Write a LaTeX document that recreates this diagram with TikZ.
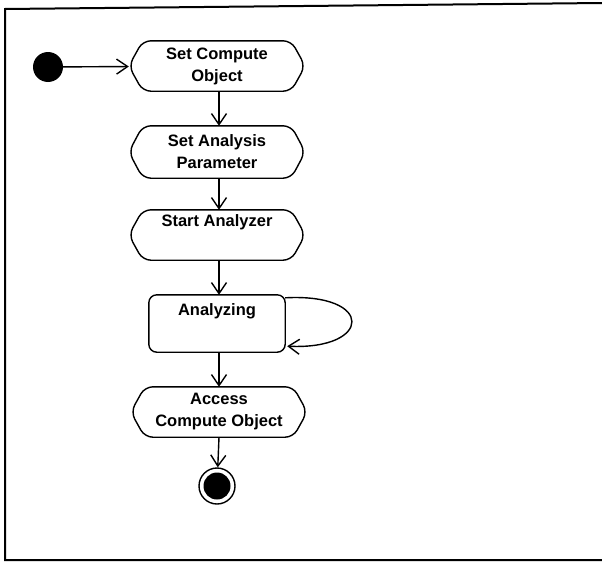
\documentclass[tikz,border=0pt]{standalone}
\usepackage{fontspec}
\setmainfont{Liberation Sans}
\usetikzlibrary{arrows.meta,calc}

\tikzset{
  every picture/.style={x=1pt,y=-1pt},
  lbl/.style={font=\bfseries\fontsize{16.5}{22}\selectfont, align=center, inner sep=0pt},
  act/.style={lbl, minimum width=176pt, minimum height=50pt},
  outline/.style={line width=1.4pt, rounded corners=8pt},
  flow/.style={line width=1.4pt, -{Straight Barb[length=11pt,width=15pt,line width=1.4pt]}},
  frame/.style={line width=2pt},
}

\begin{document}
\begin{tikzpicture}
  \useasboundingbox (0,0) rectangle (602,562);

  % surrounding frame (open on the right)
  \draw[frame] (602,3) -- (5,9) -- (5,560) -- (602,560);

  % initial and final states
  \node[circle, fill=black, minimum size=30pt, inner sep=0pt] (start) at (48,67) {};
  \node[circle, draw, line width=1.4pt, minimum size=36pt, inner sep=0pt] (final) at (217,486) {};
  \node[circle, fill=black, minimum size=27pt, inner sep=0pt] (finaldot) at (217,486) {};

  % activity states
  \node[act] (n1) at (217,66) {Set Compute\\Object};
  \node[act, minimum height=52pt] (n2) at (217,152) {Set Analysis\\Parameter};
  \node[act] (n3) at (217,235) {Start Analyzer\\\strut};
  \node[lbl, minimum width=136pt, minimum height=57pt] (n4) at (217,323.5) {Analyzing\\\strut};
  \node[act, minimum width=176pt] (n5) at (219,412) {Access\\Compute Object};

  % rounded-end outlines of the activity states
  \foreach \n in {n1,n2,n3,n5}
    \draw[outline] ($(\n.north west)+(14,0)$) -- ($(\n.north east)+(-14,0)$) -- (\n.east)
      -- ($(\n.south east)+(-14,0)$) -- ($(\n.south west)+(14,0)$) -- (\n.west) -- cycle;
  \draw[line width=1.4pt, rounded corners=8pt] (n4.north west) rectangle (n4.south east);

  % transitions
  \draw[flow] (start) -- (n1);
  \draw[flow] (n1.south) ++(2,0) -- ($(n2.north)+(2,0)$);
  \draw[flow] (n2.south) ++(2,0) -- ($(n3.north)+(2,0)$);
  \draw[flow] (n3.south) ++(2,0) -- ($(n4.north)+(2,0)$);
  \draw[flow] (n4.south) ++(2,0) -- ($(n5.north)+(0,0)$);
  \draw[flow] (n5.south) -- (final);
  \draw[flow] ($(n4.north east)+(0,3)$) .. controls (375,293) and (372,350) .. ($(n4.south east)+(2,-6)$);
\end{tikzpicture}
\end{document}
